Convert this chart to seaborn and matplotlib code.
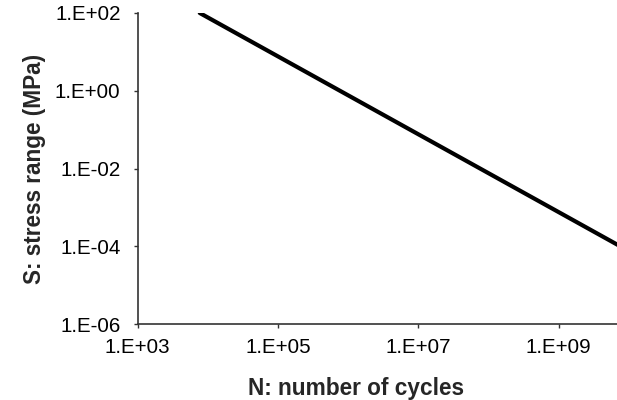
import numpy as np
import pandas as pd
import seaborn as sns
from matplotlib import pyplot as plt
from matplotlib import ticker

# S-N curve (log-log, slope about -1)
n_cycles = [7.7e3, 1.0e10]
stress = [1.0e2, 7.5e-5]

x_ticks = [1e3, 1e5, 1e7, 1e9]
x_ticklabels = ["1.E+03", "1.E+05", "1.E+07", "1.E+09"]
y_ticks = [1e-6, 1e-4, 1e-2, 1e0, 1e2]
y_ticklabels = ["1.E-06", "1.E-04", "1.E-02", "1.E+00", "1.E+02"]

df = pd.DataFrame({"N": n_cycles, "S": stress})

sns.set_style("ticks")
plt.rcParams["font.family"] = ["Liberation Sans", "DejaVu Sans"]

fig = plt.figure(figsize=(6.17, 4.0), dpi=100)
ax = fig.add_axes([0.2229, 0.19, 0.7771, 0.7775])

sns.lineplot(data=df, x="N", y="S", ax=ax, color="black", linewidth=3.0)

ax.set_xscale("log")
ax.set_yscale("log")
ax.set_xlim(1e3, 10**9.83)
ax.set_ylim(1e-6, 1e2)

ax.xaxis.set_major_locator(ticker.FixedLocator(x_ticks))
ax.yaxis.set_major_locator(ticker.FixedLocator(y_ticks))
ax.xaxis.set_minor_locator(ticker.NullLocator())
ax.yaxis.set_minor_locator(ticker.NullLocator())
ax.set_xticklabels(x_ticklabels)
ax.set_yticklabels(y_ticklabels)

ax.tick_params(axis="both", which="major", direction="out", length=3.2, width=1.0,
               color="#333333", labelsize=14.8, labelcolor="black")
ax.tick_params(axis="x", pad=7)
ax.tick_params(axis="y", pad=9)

for side in ["top", "right"]:
    ax.spines[side].set_visible(False)
for side in ["left", "bottom"]:
    ax.spines[side].set_color("#333333")
    ax.spines[side].set_linewidth(1.2)

ax.set_xlabel("N: number of cycles", fontsize=16.3, fontweight="bold")
ax.set_ylabel("S: stress range (MPa)", fontsize=16.3, fontweight="bold")
ax.xaxis.set_label_coords(0.456, -0.17)
ax.yaxis.set_label_coords(-0.19, 0.5)

fig.savefig("out.png", dpi=100)
